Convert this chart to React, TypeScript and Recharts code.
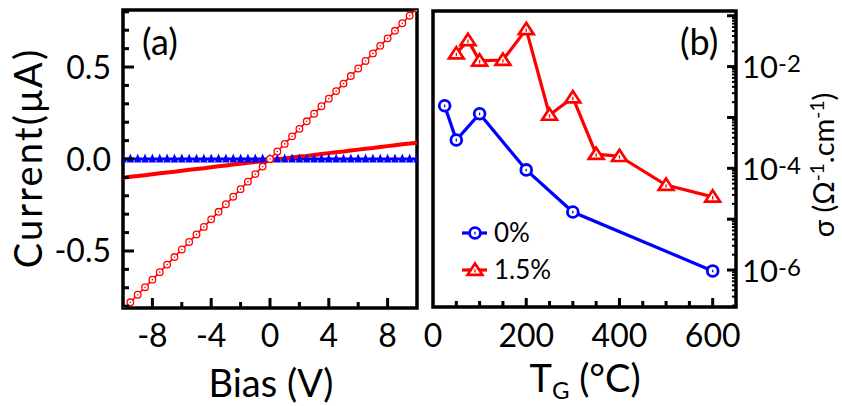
import { LineChart, Line, XAxis, YAxis, ReferenceArea, Legend } from 'recharts'

const FONT = 'Lato, "Open Sans", sans-serif'
const RED = '#ff0000'
const BLUE = '#0000ff'

// (a) current vs bias
const biasV = [-10, -9.5, -9, -8.5, -8, -7.5, -7, -6.5, -6, -5.5, -5, -4.5, -4, -3.5, -3, -2.5, -2, -1.5, -1, -0.5, 0,
  0.5, 1, 1.5, 2, 2.5, 3, 3.5, 4, 4.5, 5, 5.5, 6, 6.5, 7, 7.5, 8, 8.5, 9, 9.5, 10]
const currentDoped = [-0.82, -0.779, -0.738, -0.697, -0.656, -0.615, -0.574, -0.533, -0.492, -0.451, -0.41, -0.369, -0.328,
  -0.287, -0.246, -0.205, -0.164, -0.123, -0.082, -0.041, 0, 0.041, 0.082, 0.123, 0.164, 0.205, 0.246, 0.287, 0.328,
  0.369, 0.41, 0.451, 0.492, 0.533, 0.574, 0.615, 0.656, 0.697, 0.738, 0.779, 0.82]
const currentFit = [-0.102, -0.097, -0.093, -0.088, -0.083, -0.078, -0.073, -0.069, -0.064, -0.059, -0.054, -0.05, -0.045,
  -0.04, -0.035, -0.03, -0.026, -0.021, -0.016, -0.011, -0.007, -0.002, 0.003, 0.008, 0.013, 0.017, 0.022, 0.027, 0.032,
  0.037, 0.041, 0.046, 0.051, 0.056, 0.06, 0.065, 0.07, 0.075, 0.08, 0.084, 0.089]
const currentUndoped = [0, 0, 0, 0, 0, 0, 0, 0, 0, 0, 0, 0, 0, 0, 0, 0, 0, 0, 0, 0, 0,
  0, 0, 0, 0, 0, 0, 0, 0, 0, 0, 0, 0, 0, 0, 0, 0, 0, 0, 0, 0]
const biasTicks = [-8, -6, -4, -2, 0, 2, 4, 6, 8]
const biasLabels = [-8, -4, 0, 4, 8]
const currentTicks = [-0.8, -0.7, -0.6, -0.5, -0.4, -0.3, -0.2, -0.1, 0, 0.1, 0.2, 0.3, 0.4, 0.5, 0.6, 0.7, 0.8]
const currentLabels = [-0.5, 0, 0.5]

// (b) conductivity vs growth temperature
const tgUndoped = [25, 50, 100, 200, 300, 600]
const sigmaUndoped = [1.7e-3, 3.6e-4, 1.18e-3, 9.3e-5, 1.38e-5, 9.6e-7]
const tgDoped = [50, 75, 100, 150, 200, 250, 300, 350, 400, 500, 600]
const sigmaDoped = [1.8e-2, 3.3e-2, 1.3e-2, 1.35e-2, 5.4e-2, 1.12e-3, 2.46e-3, 1.9e-4, 1.73e-4, 4.7e-5, 2.75e-5]
const tgTicks = [0, 50, 100, 150, 200, 250, 300, 350, 400, 450, 500, 550, 600]
const tgLabels = [0, 200, 400, 600]
const sigmaTicks = [
  2e-7, 3e-7, 4e-7, 5e-7, 6e-7, 7e-7, 8e-7, 9e-7,
  1e-6, 2e-6, 3e-6, 4e-6, 5e-6, 6e-6, 7e-6, 8e-6, 9e-6,
  1e-5, 2e-5, 3e-5, 4e-5, 5e-5, 6e-5, 7e-5, 8e-5, 9e-5,
  1e-4, 2e-4, 3e-4, 4e-4, 5e-4, 6e-4, 7e-4, 8e-4, 9e-4,
  1e-3, 2e-3, 3e-3, 4e-3, 5e-3, 6e-3, 7e-3, 8e-3, 9e-3,
  1e-2, 2e-2, 3e-2, 4e-2, 5e-2, 6e-2, 7e-2, 8e-2, 9e-2, 1e-1,
]
const sigmaLabels = [-2, -4, -6]

const ivRows = biasV.map((v, i) => ({ v, doped: currentDoped[i], fit: currentFit[i], undoped: currentUndoped[i] }))
const undopedRows = tgUndoped.map((t, i) => ({ t, s: sigmaUndoped[i] }))
const dopedRows = tgDoped.map((t, i) => ({ t, s: sigmaDoped[i] }))

// plot boxes
const A = { left: 123, right: 417, top: 10, bottom: 308 }
const B = { left: 433, right: 736, top: 11, bottom: 307 }

const near = (list: number[], v: number) => list.some((l) => Math.abs(l - v) < 1e-9)

function BiasTick(p: any) {
  const v = p.payload.value
  const major = near(biasLabels, v)
  return (
    <g>
      <line x1={p.x} x2={p.x} y1={A.bottom} y2={A.bottom - (major ? 10 : 6)} stroke="#000" strokeWidth={3} />
      {major && <text x={p.x} y={347} textAnchor="middle" fontSize={32} fontFamily={FONT} fill="#000">{v}</text>}
    </g>
  )
}

function CurrentTick(p: any) {
  const v = p.payload.value
  const major = near(currentLabels, v)
  return (
    <g>
      <line x1={A.left} x2={A.left + (major ? 11 : 6)} y1={p.y} y2={p.y} stroke="#000" strokeWidth={3} />
      {major && <text x={111} y={p.y + 11.5} textAnchor="end" fontSize={32} fontFamily={FONT} fill="#000">{v.toFixed(1)}</text>}
    </g>
  )
}

function TgTick(p: any) {
  const v = p.payload.value
  const major = near(tgLabels, v)
  return (
    <g>
      {v > 0 && <line x1={p.x} x2={p.x} y1={B.bottom} y2={B.bottom - (major ? 9 : 6)} stroke="#000" strokeWidth={3} />}
      {major && <text x={p.x} y={347} textAnchor="middle" fontSize={32} fontFamily={FONT} fill="#000">{v}</text>}
    </g>
  )
}

function SigmaTick(p: any) {
  const v = p.payload.value
  const e = Math.log10(v)
  const decade = Math.abs(e - Math.round(e)) < 1e-6
  const showLabel = decade && sigmaLabels.includes(Math.round(e))
  return (
    <g>
      <line x1={B.right} x2={B.right - (decade ? 9 : 4)} y1={p.y} y2={p.y} stroke="#000" strokeWidth={decade ? 3 : 2} />
      {showLabel && (
        <text x={742} y={p.y + 11.5} fontSize={31} fontFamily={FONT} fill="#000">
          10<tspan dy={-6} fontSize={24}>{Math.round(e)}</tspan>
        </text>
      )}
    </g>
  )
}

function SmallRing(p: any) {
  if (p.cx == null) return <g key={`sr-${p.index}`} />
  return (
    <g key={`sr-${p.index}`}>
      <circle cx={p.cx} cy={p.cy} r={3.3} fill="#fff" stroke={RED} strokeWidth={1.3} />
      <circle cx={p.cx} cy={p.cy} r={0.8} fill={RED} />
    </g>
  )
}

function FilledTriangle(p: any) {
  if (p.cx == null) return <g key={`ft-${p.index}`} />
  const { cx, cy } = p
  return <path key={`ft-${p.index}`} d={`M${cx},${cy - 5.5} L${cx + 3.7},${cy + 3.5} L${cx - 3.7},${cy + 3.5} Z`} fill={BLUE} />
}

function Ring({ cx, cy, color }: { cx: number; cy: number; color: string }) {
  return (
    <g>
      <circle cx={cx} cy={cy} r={5.4} fill="#fff" stroke={color} strokeWidth={2.8} />
      <line x1={cx} x2={cx} y1={cy - 1.2} y2={cy + 1.4} stroke={color} strokeWidth={1.3} />
    </g>
  )
}

function OpenTriangle({ cx, cy, color }: { cx: number; cy: number; color: string }) {
  return (
    <g>
      <path d={`M${cx},${cy - 6.5} L${cx + 7.4},${cy + 4.8} L${cx - 7.4},${cy + 4.8} Z`} fill="#fff" stroke={color}
        strokeWidth={2.7} strokeLinejoin="miter" />
      <line x1={cx} x2={cx} y1={cy - 0.8} y2={cy + 2.6} stroke={color} strokeWidth={1.3} />
    </g>
  )
}

function LegendBox(props: any) {
  const items = props.payload || []
  return (
    <svg width={140} height={80} style={{ overflow: 'visible' }}>
      {items.map((it: any, i: number) => {
        const y = 18 + i * 37
        return (
          <g key={it.value}>
            <line x1={7} x2={32} y1={y} y2={y} stroke={it.color} strokeWidth={3.2} />
            {i === 0 ? <Ring cx={20} cy={y} color={it.color} /> : <OpenTriangle cx={20} cy={y} color={it.color} />}
            <text x={39} y={y + 9} fontSize={26} fontFamily={FONT} fill="#000">{it.value}</text>
          </g>
        )
      })}
    </svg>
  )
}

export default function App() {
  return (
    <div style={{ position: 'absolute', left: 0, top: 0, width: 842, height: 406, background: '#fff', overflow: 'hidden' }}>
      <div style={{ position: 'absolute', left: 0, top: 0 }}>
        <LineChart width={430} height={406} data={ivRows}
          margin={{ top: A.top, right: 430 - A.right, bottom: 406 - A.bottom - 1, left: A.left - 1 }}>
          <XAxis dataKey="v" type="number" domain={[-10, 10]} ticks={biasTicks} interval={0} allowDataOverflow
            tick={(p: any) => <BiasTick {...p} />} tickLine={false} axisLine={false} height={1} />
          <YAxis type="number" domain={[-0.81, 0.81]} ticks={currentTicks} interval={0} allowDataOverflow
            tick={(p: any) => <CurrentTick {...p} />} tickLine={false} axisLine={false} width={1} />
          <Line dataKey="undoped" stroke={BLUE} strokeWidth={3} isAnimationActive={false} activeDot={false}
            dot={(p: any) => <FilledTriangle {...p} />} />
          <Line dataKey="fit" stroke={RED} strokeWidth={4} dot={false} isAnimationActive={false} activeDot={false} />
          <Line dataKey="doped" stroke={RED} strokeWidth={1.6} isAnimationActive={false} activeDot={false}
            dot={(p: any) => <SmallRing {...p} />} />
          <ReferenceArea x1={-10} x2={10} y1={-0.81} y2={0.81} fill="none" stroke="#000" strokeWidth={3.5}
            ifOverflow="visible" />
          <text x={142} y={55} fontSize={36} fontFamily={FONT} fill="#000">(a)</text>
          <text x={42} y={158} transform="rotate(-90 42 158)" textAnchor="middle" fontSize={38} letterSpacing={2.2}
            fontFamily={FONT} fill="#000">Current(μA)</text>
          <text x={271} y={397} textAnchor="middle" fontSize={38} fontFamily={FONT} fill="#000">Bias (V)</text>
        </LineChart>
      </div>
      <div style={{ position: 'absolute', left: 0, top: 0 }}>
        <LineChart width={842} height={406}
          margin={{ top: B.top, right: 842 - B.right - 1, bottom: 406 - B.bottom - 1, left: B.left }}>
          <XAxis dataKey="t" type="number" domain={[0, 650]} ticks={tgTicks} interval={0} allowDataOverflow
            tick={(p: any) => <TgTick {...p} />} tickLine={false} axisLine={false} height={1} />
          <YAxis orientation="right" scale="log" type="number" domain={[1.875e-7, 0.124]} ticks={sigmaTicks}
            interval={0} allowDataOverflow tick={(p: any) => <SigmaTick {...p} />} tickLine={false} axisLine={false}
            width={1} />
          <Line data={undopedRows} dataKey="s" name="0%" stroke={BLUE} strokeWidth={3.2} isAnimationActive={false}
            activeDot={false} dot={(p: any) => (p.cx == null ? <g key={`u-${p.index}`} /> :
              <Ring key={`u-${p.index}`} cx={p.cx} cy={p.cy} color={BLUE} />)} />
          <Line data={dopedRows} dataKey="s" name="1.5%" stroke={RED} strokeWidth={3.2} isAnimationActive={false}
            activeDot={false} dot={(p: any) => (p.cx == null ? <g key={`d-${p.index}`} /> :
              <OpenTriangle key={`d-${p.index}`} cx={p.cx} cy={p.cy} color={RED} />)} />
          <ReferenceArea x1={0} x2={650} y1={1.875e-7} y2={0.124} fill="none" stroke="#000" strokeWidth={3.5}
            ifOverflow="visible" />
          <Legend layout="vertical" align="center" verticalAlign="middle"
            wrapperStyle={{ left: 455, top: 215, width: 140, height: 80 }} content={(p: any) => <LegendBox {...p} />} />
          <text x={680} y={55} fontSize={36} fontFamily={FONT} fill="#000">(b)</text>
          <text x={585} y={392} textAnchor="middle" fontSize={38} fontFamily={FONT} fill="#000">
            T<tspan dy={7} fontSize={24}>G</tspan><tspan dy={-7}> (°C)</tspan>
          </text>
          <text x={834} y={165} transform="rotate(-90 834 165)" textAnchor="middle" fontSize={29} fontFamily={FONT}
            fill="#000">
            σ (Ω<tspan dy={-10} fontSize={19}>-1</tspan><tspan dy={10}>.cm</tspan><tspan dy={-10} fontSize={19}>-1</tspan><tspan dy={10}>)</tspan>
          </text>
        </LineChart>
      </div>
    </div>
  )
}
